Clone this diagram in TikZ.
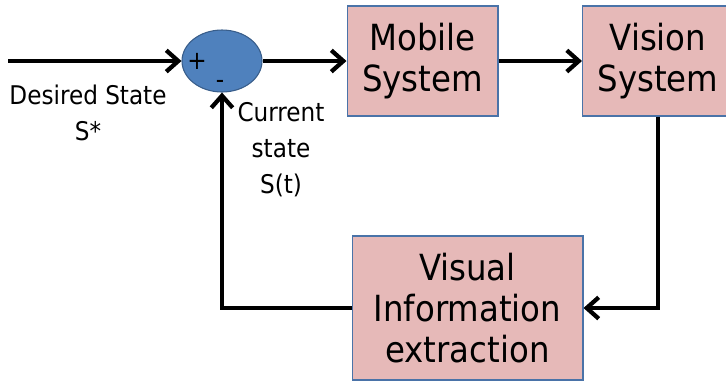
\documentclass[tikz,border=0pt]{standalone}
\usepackage{fontspec}
\setmainfont{DejaVu Sans Condensed}
\usetikzlibrary{shapes.geometric}
\usetikzlibrary{positioning}
\usetikzlibrary{arrows.meta}
\definecolor{boxpink}{HTML}{E6B9B8}
\definecolor{boxblue}{HTML}{4A73A8}
\definecolor{sumblue}{HTML}{4F81BD}
\definecolor{sumedge}{HTML}{385D8A}
\tikzset{
    blockbox/.style = {rectangle, draw=boxblue, line width=1pt, fill=boxpink, align=center,
                       font=\fontsize{27}{31}\selectfont, text=black, inner sep=0pt},
    sumnode/.style = {ellipse, draw=sumedge, line width=0.8pt, fill=sumblue, inner sep=0pt,
                      minimum width=60pt, minimum height=46.5pt},
    lbl/.style = {align=center, font=\fontsize{19.3}{27}\selectfont, text=black, inner sep=0pt},
    sgn/.style = {font=\fontsize{19.3}{20}\selectfont, text=black, inner sep=0pt},
    edgen/.style = {-{Straight Barb[length=9pt,width=16pt]}, line width=3.2pt, black},
    edgep/.style = {-, line width=3.2pt, black}
}

\begin{document}
\begin{tikzpicture}[x=0.75pt, y=-0.75pt]
  \useasboundingbox (0,0) rectangle (726,380);

  \coordinate (start) at (8,61);
  \node[sumnode] (sum) at (222,61) {};
  \node[blockbox, minimum width=113pt, minimum height=82.5pt] (mobile) at (422.5,61) {Mobile\\System};
  \node[blockbox, minimum width=113pt, minimum height=82.5pt] (vision) at (658,61) {Vision\\System};
  \node[blockbox, minimum width=173pt, minimum height=108pt] (visual) at (467.5,308) {Visual\\Information\\extraction};

  \node[sgn] (plus) at (197,61) {+};
  \node[sgn] (minus) at (220,84) {-};
  \node[lbl] (desired) at (88,113) {Desired State\\S*};
  \node[lbl] (current) at (281,150) {Current\\state\\S(t)};

  \draw[edgen] (start) -- (sum.west);
  \draw[edgen] (sum.east) -- (mobile.west);
  \draw[edgen] (mobile.east) -- (vision.west);
  \draw[edgen] (vision.south) |- (visual.east);
  \draw[edgen] (visual.west) -| (sum.south);

\end{tikzpicture}
\end{document}
